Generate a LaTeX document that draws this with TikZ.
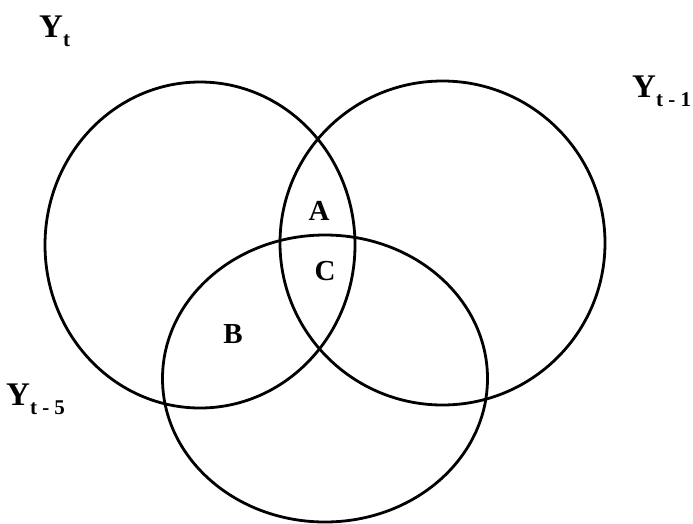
\documentclass[tikz,border=0pt]{standalone}
\usepackage{fontspec}
\setmainfont{Liberation Serif}
\usetikzlibrary{shapes.geometric}
\tikzset{
  setring/.style={draw=black, line width=2.8pt, ellipse, inner sep=0pt, fill=none},
  varlabel/.style={anchor=base west, inner sep=0pt, font=\fontsize{33}{33}\selectfont\bfseries},
  regionlabel/.style={anchor=center, inner sep=0pt, font=\fontsize{29}{29}\selectfont\bfseries}
}
\newcommand{\subtxt}[1]{\raisebox{-9pt}{\fontsize{21}{21}\selectfont\bfseries #1}}
\begin{document}
\begin{tikzpicture}[x=1pt,y=-1pt]
\useasboundingbox (0,0) rectangle (693,523);
\node[setring, minimum width=310pt, minimum height=326pt] (yt) at (200,245) {};
\node[setring, minimum width=325pt, minimum height=324pt] (yt1) at (442.5,243) {};
\node[setring, minimum width=325pt, minimum height=287pt] (yt5) at (325,378.5) {};
\node[varlabel] (lyt) at (39,37) {Y\subtxt{t}};
\node[varlabel] (lyt1) at (632,97) {Y\subtxt{t - 1}};
\node[varlabel] (lyt5) at (6,405) {Y\subtxt{t - 5}};
\node[regionlabel] (ra) at (319,211) {A};
\node[regionlabel] (rc) at (325,271) {C};
\node[regionlabel] (rb) at (233,334) {B};
\end{tikzpicture}
\end{document}
